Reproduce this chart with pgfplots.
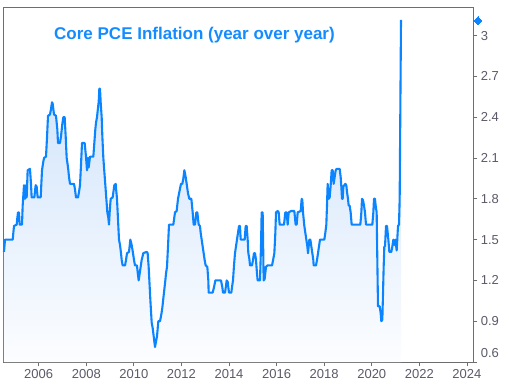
\documentclass[border=0pt]{standalone}
\usepackage{pgfplots}
\pgfplotsset{compat=1.18}
\usepackage{pgfplotstable}
\usepackage{fontspec}
\setmainfont{Liberation Sans}
\definecolor{lineblue}{RGB}{10,132,255}
\definecolor{titleblue}{RGB}{20,140,255}
\definecolor{framegray}{RGB}{110,110,110}
\definecolor{labgray}{RGB}{90,90,105}
\definecolor{filltop}{RGB}{200,223,250}
\definecolor{fillbot}{RGB}{252,253,255}

\pgfplotstableread{
t v
2004.541 1.41
2004.584 1.50
2004.625 1.50
2004.906 1.50
2004.934 1.55
2004.962 1.60
2005.074 1.61
2005.102 1.66
2005.130 1.70
2005.172 1.70
2005.200 1.61
2005.298 1.61
2005.326 1.75
2005.382 1.90
2005.424 1.80
2005.466 1.90
2005.494 1.81
2005.536 2.01
2005.634 2.02
2005.676 1.91
2005.704 1.81
2005.816 1.81
2005.872 1.90
2005.914 1.89
2005.957 1.81
2006.083 1.81
2006.111 1.91
2006.139 2.01
2006.181 2.06
2006.223 2.10
2006.307 2.11
2006.349 2.25
2006.391 2.41
2006.475 2.42
2006.517 2.46
2006.559 2.51
2006.587 2.50
2006.615 2.46
2006.643 2.42
2006.727 2.41
2006.783 2.31
2006.811 2.21
2006.895 2.21
2006.937 2.26
2006.993 2.35
2007.035 2.40
2007.091 2.40
2007.134 2.26
2007.176 2.10
2007.218 2.05
2007.246 2.01
2007.274 1.96
2007.316 1.91
2007.484 1.91
2007.526 1.87
2007.568 1.81
2007.652 1.81
2007.694 1.85
2007.736 1.90
2007.778 2.05
2007.820 2.21
2007.932 2.21
2007.988 2.11
2008.030 2.01
2008.072 2.10
2008.100 2.03
2008.156 2.11
2008.296 2.11
2008.338 2.21
2008.380 2.31
2008.409 2.36
2008.451 2.40
2008.493 2.47
2008.521 2.51
2008.549 2.61
2008.577 2.61
2008.605 2.51
2008.647 2.40
2008.675 2.26
2008.717 2.10
2008.759 2.00
2008.801 1.90
2008.843 1.80
2008.885 1.70
2008.927 1.66
2008.955 1.61
2008.983 1.70
2009.025 1.80
2009.109 1.81
2009.179 1.90
2009.235 1.91
2009.291 1.80
2009.333 1.65
2009.375 1.50
2009.418 1.46
2009.460 1.40
2009.488 1.35
2009.530 1.31
2009.628 1.31
2009.670 1.35
2009.712 1.40
2009.796 1.41
2009.852 1.50
2009.908 1.46
2009.964 1.40
2010.006 1.35
2010.048 1.31
2010.132 1.31
2010.160 1.26
2010.202 1.20
2010.244 1.25
2010.286 1.30
2010.328 1.35
2010.398 1.40
2010.538 1.41
2010.580 1.40
2010.622 1.30
2010.692 1.06
2010.749 0.89
2010.791 0.85
2010.833 0.79
2010.889 0.71
2010.931 0.75
2010.973 0.79
2011.029 0.90
2011.099 0.90
2011.155 0.95
2011.197 1.00
2011.253 1.09
2011.323 1.20
2011.351 1.25
2011.393 1.30
2011.435 1.45
2011.477 1.61
2011.659 1.61
2011.729 1.70
2011.799 1.71
2011.855 1.80
2011.911 1.85
2011.981 1.91
2012.037 1.91
2012.080 1.95
2012.122 2.01
2012.178 1.96
2012.220 1.91
2012.276 1.84
2012.332 1.80
2012.416 1.80
2012.472 1.70
2012.514 1.61
2012.570 1.61
2012.626 1.70
2012.668 1.70
2012.724 1.61
2012.780 1.60
2012.808 1.55
2012.850 1.50
2012.892 1.45
2012.934 1.40
2012.976 1.35
2013.018 1.31
2013.088 1.30
2013.130 1.20
2013.144 1.11
2013.312 1.11
2013.369 1.15
2013.425 1.20
2013.663 1.20
2013.719 1.15
2013.747 1.11
2013.831 1.11
2013.873 1.16
2013.901 1.20
2013.943 1.19
2013.999 1.11
2014.097 1.11
2014.125 1.15
2014.167 1.20
2014.209 1.31
2014.251 1.40
2014.293 1.45
2014.335 1.50
2014.377 1.55
2014.420 1.60
2014.462 1.60
2014.490 1.50
2014.658 1.50
2014.700 1.60
2014.742 1.60
2014.784 1.50
2014.812 1.40
2014.854 1.36
2014.882 1.31
2014.966 1.31
2015.008 1.35
2015.050 1.40
2015.092 1.40
2015.134 1.35
2015.176 1.25
2015.204 1.20
2015.302 1.20
2015.344 1.45
2015.372 1.70
2015.414 1.70
2015.456 1.20
2015.498 1.21
2015.554 1.30
2015.610 1.31
2015.807 1.31
2015.863 1.36
2015.905 1.40
2015.947 1.55
2015.975 1.70
2016.045 1.71
2016.087 1.70
2016.129 1.61
2016.311 1.61
2016.367 1.70
2016.423 1.70
2016.465 1.61
2016.507 1.70
2016.605 1.71
2016.745 1.71
2016.801 1.61
2016.843 1.61
2016.886 1.70
2017.012 1.71
2017.054 1.80
2017.082 1.79
2017.110 1.70
2017.166 1.60
2017.208 1.55
2017.250 1.50
2017.292 1.45
2017.320 1.40
2017.348 1.45
2017.376 1.50
2017.418 1.50
2017.460 1.45
2017.502 1.40
2017.544 1.35
2017.558 1.31
2017.656 1.31
2017.698 1.35
2017.740 1.40
2017.782 1.45
2017.824 1.50
2018.006 1.50
2018.048 1.55
2018.090 1.61
2018.118 1.75
2018.146 1.91
2018.189 1.80
2018.231 1.81
2018.273 1.90
2018.315 2.01
2018.357 2.01
2018.399 1.91
2018.441 1.96
2018.483 2.01
2018.525 2.02
2018.651 2.02
2018.693 1.96
2018.721 1.89
2018.749 1.80
2018.777 1.80
2018.805 1.89
2018.889 1.91
2018.931 1.90
2018.959 1.85
2019.001 1.80
2019.029 1.75
2019.071 1.75
2019.113 1.70
2019.155 1.61
2019.520 1.61
2019.562 1.70
2019.590 1.80
2019.632 1.79
2019.674 1.75
2019.716 1.70
2019.758 1.61
2020.024 1.61
2020.066 1.70
2020.094 1.80
2020.136 1.80
2020.164 1.75
2020.206 1.70
2020.234 1.35
2020.262 1.01
2020.332 1.01
2020.374 0.96
2020.402 0.90
2020.444 0.91
2020.472 1.10
2020.500 1.30
2020.528 1.45
2020.557 1.45
2020.599 1.60
2020.641 1.60
2020.697 1.50
2020.739 1.41
2020.823 1.41
2020.865 1.45
2020.907 1.50
2020.949 1.46
2020.991 1.50
2021.047 1.42
2021.103 1.60
2021.145 1.61
2021.173 1.80
2021.201 2.46
2021.229 3.115
}\pcedata

\begin{document}
\begin{tikzpicture}[x=1pt,y=1pt]
\useasboundingbox (0,0) rectangle (509,386);
\begin{axis}[
  at={(3.5pt,24pt)}, anchor=south west,
  scale only axis, width=469.8pt, height=354.7pt,
  xmin=2004.5204, xmax=2024.268,
  ymin=0.6, ymax=3.208,
  clip=false,
  axis line style={draw=framegray, line width=0.8pt},
  tick style={draw=framegray, line width=0.8pt},
  tick align=outside,
  major tick length=4pt,
  xtick pos=bottom, ytick pos=right,
  yticklabel pos=right,
  xtick={2006,2008,2010,2012,2014,2016,2018,2020,2022,2024},
  xticklabels={2006,2008,2010,2012,2014,2016,2018,2020,2022,2024},
  ytick={0.9,1.2,1.5,1.8,2.1,2.4,2.7,3.0},
  yticklabels={0.9,1.2,1.5,1.8,2.1,2.4,2.7,3},
  extra y ticks={0.6},
  extra y tick labels={0.6},
  extra y tick style={yticklabel style={yshift=8.5pt}},
  ticklabel style={font=\fontsize{13}{15}\selectfont, text=labgray},
  yticklabel style={anchor=west},
]
\addplot[draw=none, top color=filltop, bottom color=fillbot]
  table[x=t, y=v] {\pcedata} -- (axis cs:2021.229,0.6) -- (axis cs:2004.541,0.6) -- cycle;
\addplot[lineblue, line width=2.1pt, line join=round, mark=none]
  table[x=t, y=v] {\pcedata};
\addplot[only marks, mark=square*, mark size=2.8pt, mark options={rotate=45, fill=lineblue, draw=lineblue, line width=0pt}]
  coordinates {(2024.466,3.11)};
\node[anchor=base west, font=\bfseries\fontsize{17}{20}\selectfont, text=titleblue, inner sep=0pt]
  at (axis description cs:0.1075,0.9106) {Core PCE Inflation (year over year)};
\end{axis}
\end{tikzpicture}
\end{document}
